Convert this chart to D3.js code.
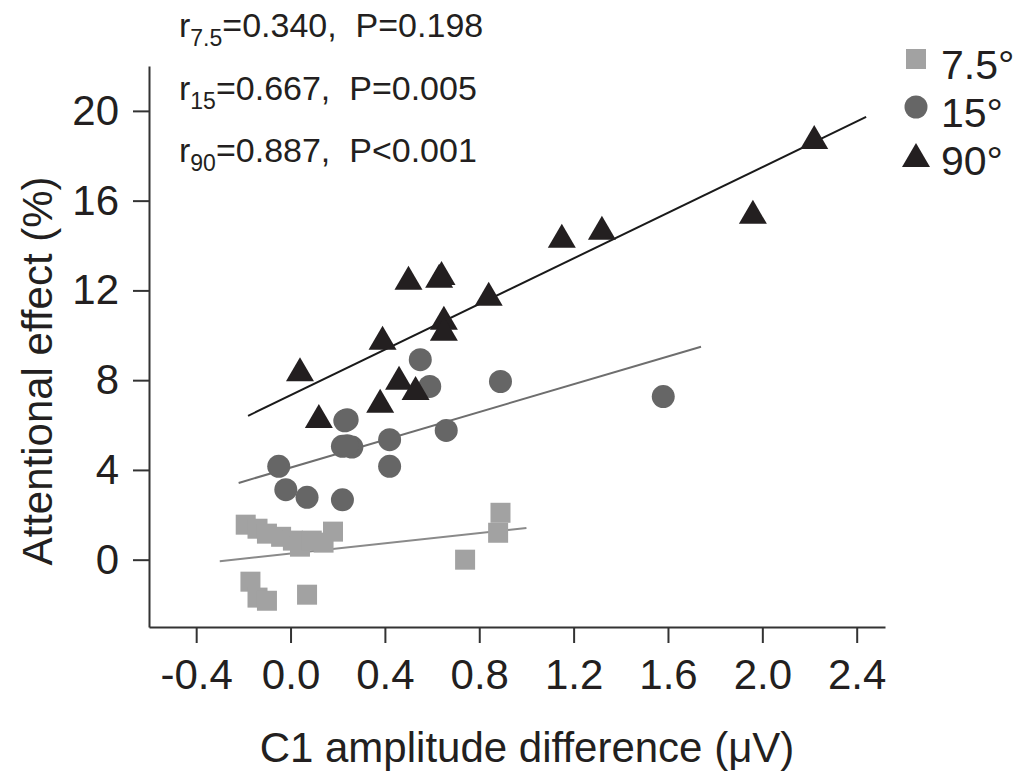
<!DOCTYPE html>
<html>
<head>
<meta charset="utf-8">
<script src="https://cdn.jsdelivr.net/npm/d3@7"></script>
<style>
    body { margin: 0; background: #fff; }
    svg text { font-family: Arial, "Liberation Sans", Helvetica, sans-serif; fill: #231f20; }
</style>
</head>
<body>
<div id="chart"></div>
<script>
// axis ticks
var xTicks = [-0.4, 0.0, 0.4, 0.8, 1.2, 1.6, 2.0, 2.4];
var yTicks = [0, 4, 8, 12, 16, 20];

// 7.5 deg (squares)
var sqX = [-0.19, -0.14, -0.10, -0.04, 0.01, 0.04, 0.09, 0.14, 0.18, 0.89, 0.88, 0.74, -0.17, -0.14, -0.10, 0.07];
var sqY = [1.56, 1.38, 1.16, 1.02, 0.85, 0.58, 0.85, 0.76, 1.25, 2.09, 1.20, 0.00, -0.98, -1.69, -1.83, -1.56];

// 15 deg (circles)
var ciX = [0.55, 0.59, 0.89, 1.58, 0.24, 0.22, 0.26, 0.42, 0.66, -0.05, 0.42, -0.02, 0.07, 0.22, 0.24, 0.23];
var ciY = [8.91, 7.72, 7.94, 7.27, 6.24, 5.05, 5.02, 5.35, 5.76, 4.16, 4.16, 3.12, 2.78, 2.67, 5.08, 6.19];

// 90 deg (triangles)
var trX = [0.04, 0.12, 0.38, 0.46, 0.53, 0.39, 0.50, 0.63, 0.64, 0.84, 0.65, 0.65, 1.15, 1.32, 1.96, 2.22];
var trY = [8.49, 6.40, 7.08, 8.11, 7.65, 9.89, 12.56, 12.65, 12.78, 11.85, 10.78, 10.29, 14.43, 14.79, 15.50, 18.84];

// regression lines (end points)
var fit75X = [-0.30, 1.00], fit75Y = [-0.07, 1.41];
var fit15X = [-0.22, 1.74], fit15Y = [3.42, 9.49];
var fit90X = [-0.18, 2.44], fit90Y = [6.41, 19.73];

// text
var statSub = ["7.5", "15", "90"];
var statR = ["=0.340,", "=0.667,", "=0.887,"];
var statP = ["P=0.198", "P=0.005", "P<0.001"];
var legendLabels = ["7.5°", "15°", "90°"];

var W = 1019, H = 771;
var margin = { top: 66, right: 134, bottom: 144, left: 149 },
    width = W - margin.left - margin.right,
    height = H - margin.top - margin.bottom;

var x = d3.scaleLinear().domain([-0.6, 2.52]).range([0, width]);
var y = d3.scaleLinear().domain([-3, 22]).range([height, 0]);

var colSq = "#a2a2a2", colCi = "#666666", colTr = "#231f20";

var svg = d3.select("#chart").append("svg")
    .attr("width", W)
    .attr("height", H);

var g = svg.append("g")
    .attr("transform", "translate(" + margin.left + "," + margin.top + ")");

// axes
var xAxis = d3.axisBottom(x).tickValues(xTicks).tickSize(16).tickSizeOuter(0).tickPadding(16)
    .tickFormat(function(d) { return d.toFixed(1); }); // plain hyphen, not unicode minus
var yAxis = d3.axisLeft(y).tickValues(yTicks).tickSize(16).tickSizeOuter(0).tickPadding(14);

var gx = g.append("g")
    .attr("transform", "translate(0," + height + ")")
    .call(xAxis);
var gy = g.append("g").call(yAxis);

[gx, gy].forEach(function(a) {
    a.select(".domain").attr("stroke", "#333").attr("stroke-width", 2);
    a.selectAll(".tick line").attr("stroke", "#333").attr("stroke-width", 2);
    a.selectAll(".tick text").style("font-size", "42px").attr("fill", "#231f20");
});

// axis titles
svg.append("text")
    .attr("x", 527)
    .attr("y", 762)
    .attr("text-anchor", "middle")
    .style("font-size", "42px")
    .text("C1 amplitude difference (μV)");

svg.append("text")
    .attr("transform", "translate(52,371) rotate(-90)")
    .attr("text-anchor", "middle")
    .style("font-size", "42px")
    .text("Attentional effect (%)");

// fit lines
var line = d3.line()
    .x(function(d) { return x(d[0]); })
    .y(function(d) { return y(d[1]); });

var fits = [
    { xs: fit75X, ys: fit75Y, color: "#8a8a8a" },
    { xs: fit15X, ys: fit15Y, color: "#6e6e6e" },
    { xs: fit90X, ys: fit90Y, color: "#1a1a1a" }
];
fits.forEach(function(f) {
    g.append("path")
        .attr("fill", "none")
        .attr("stroke", f.color)
        .attr("stroke-width", 2)
        .attr("d", line(d3.zip(f.xs, f.ys)));
});

// markers
var sqSize = 20, ciR = 11.5;
function triPath(cx, cy) {
    var w = 14, h = 12;
    return "M" + cx + "," + (cy - h) + "L" + (cx + w) + "," + (cy + h) + "L" + (cx - w) + "," + (cy + h) + "Z";
}

g.selectAll(".sq")
    .data(d3.zip(sqX, sqY))
    .enter().append("rect")
    .attr("class", "sq")
    .attr("x", function(d) { return x(d[0]) - sqSize / 2; })
    .attr("y", function(d) { return y(d[1]) - sqSize / 2; })
    .attr("width", sqSize)
    .attr("height", sqSize)
    .attr("fill", colSq);

g.selectAll(".ci")
    .data(d3.zip(ciX, ciY))
    .enter().append("circle")
    .attr("class", "ci")
    .attr("cx", function(d) { return x(d[0]); })
    .attr("cy", function(d) { return y(d[1]); })
    .attr("r", ciR)
    .attr("fill", colCi);

g.selectAll(".tr")
    .data(d3.zip(trX, trY))
    .enter().append("path")
    .attr("class", "tr")
    .attr("d", function(d) { return triPath(x(d[0]), y(d[1])); })
    .attr("fill", colTr);

// stats text
statSub.forEach(function(s, i) {
    var t = svg.append("text")
        .attr("x", 179)
        .attr("y", 37 + i * 62.5)
        .style("font-size", "34px");
    t.append("tspan").text("r");
    t.append("tspan").attr("dy", 9).style("font-size", "23px").text(s);
    t.append("tspan").attr("dy", -9).text(statR[i] + "\u00a0\u00a0" + statP[i]);
});

// legend
var leg = svg.append("g").attr("transform", "translate(916,0)");
var legY = [59, 107, 155];
leg.append("rect").attr("x", -10).attr("y", legY[0] - 10).attr("width", 20).attr("height", 20).attr("fill", colSq);
leg.append("circle").attr("cx", 0).attr("cy", legY[1]).attr("r", ciR).attr("fill", colCi);
leg.append("path").attr("d", triPath(0, legY[2])).attr("fill", colTr);
legendLabels.forEach(function(l, i) {
    leg.append("text")
        .attr("x", 25)
        .attr("y", legY[i] + 6)
        .attr("dy", "0.35em")
        .style("font-size", "41px")
        .text(l);
});
</script>
</body>
</html>
